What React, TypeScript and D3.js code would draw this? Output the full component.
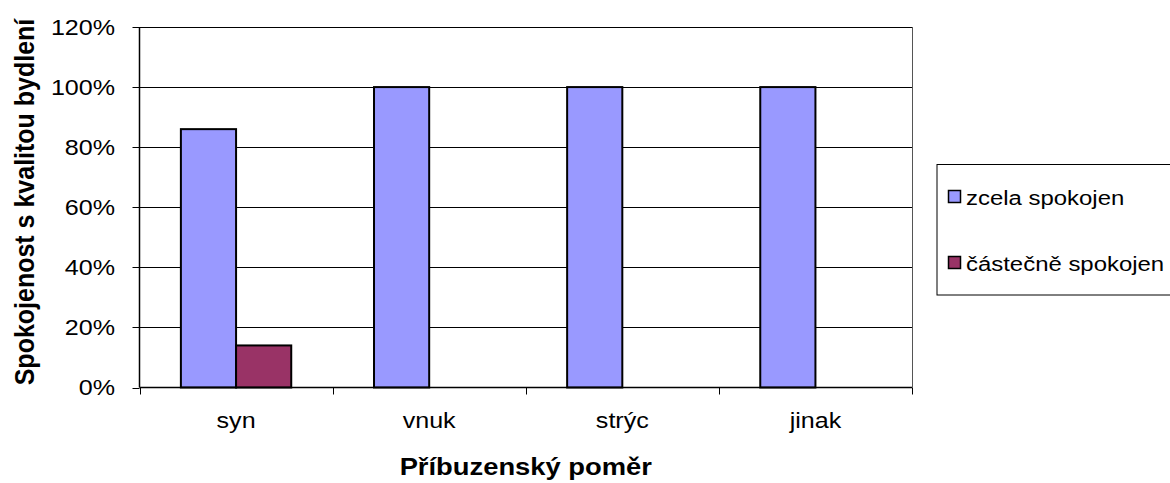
import React, { useEffect, useRef } from "react";
import * as d3 from "d3";

const categories = ["syn", "vnuk", "strýc", "jinak"];
const seriesNames = ["zcela spokojen", "částečně spokojen"];
const zcelaSpokojen = [86, 100, 100, 100];
const castecneSpokojen = [14, 0, 0, 0];
const yTicks = [0, 20, 40, 60, 80, 100, 120];
const colors = ["#9999FF", "#993366"];

// the picture is stretched a little horizontally, text too
const SX = 1.14;

const App = () => {
  const chartRef = useRef<SVGSVGElement>(null);

  useEffect(() => {
    const width = 1170;
    const height = 483;
    const plot = { left: 139.5, right: 912, top: 27, bottom: 387.5 };
    const font = "Arial, 'Liberation Sans', sans-serif";

    const svg = d3.select(chartRef.current);
    svg.selectAll("*").remove();
    svg.attr("width", width).attr("height", height);

    svg.append("rect").attr("width", width).attr("height", height).attr("fill", "#fff");

    const y = d3.scaleLinear().domain([0, 120]).range([plot.bottom, plot.top]);
    const x0 = d3.scaleBand<string>().domain(categories).range([plot.left, plot.right]);
    // gap width 150% -> bar width = band / 3.5
    const gap = (x0.bandwidth() * 0.75) / 3.5;
    const x1 = d3
      .scaleBand<string>()
      .domain(seriesNames)
      .range([gap, x0.bandwidth() - gap]);

    // gridlines
    svg
      .append("g")
      .selectAll("line")
      .data(yTicks.filter((t) => t > 0))
      .enter()
      .append("line")
      .attr("x1", plot.left)
      .attr("x2", plot.right)
      .attr("y1", (d) => Math.round(y(d)) + 0.5)
      .attr("y2", (d) => Math.round(y(d)) + 0.5)
      .attr("stroke", "#000")
      .attr("stroke-width", 1);

    // right border
    svg
      .append("line")
      .attr("x1", plot.right + 0.5)
      .attr("x2", plot.right + 0.5)
      .attr("y1", plot.top)
      .attr("y2", plot.bottom)
      .attr("stroke", "#555")
      .attr("stroke-width", 1);

    // bars
    const data = [zcelaSpokojen, castecneSpokojen];
    data.forEach((values, si) => {
      svg
        .append("g")
        .selectAll("rect")
        .data(values.map((v, i) => ({ v, cat: categories[i] })).filter((d) => d.v > 0))
        .enter()
        .append("rect")
        .attr("x", (d) => (x0(d.cat) as number) + (x1(seriesNames[si]) as number))
        .attr("y", (d) => y(d.v))
        .attr("width", x1.bandwidth())
        .attr("height", (d) => y(0) - y(d.v))
        .attr("fill", colors[si])
        .attr("stroke", "#000")
        .attr("stroke-width", 2);
    });

    // axes
    svg
      .append("line")
      .attr("x1", plot.left)
      .attr("x2", plot.left)
      .attr("y1", plot.top)
      .attr("y2", plot.bottom)
      .attr("stroke", "#000")
      .attr("stroke-width", 1.5);
    svg
      .append("line")
      .attr("x1", plot.left)
      .attr("x2", plot.right)
      .attr("y1", plot.bottom)
      .attr("y2", plot.bottom)
      .attr("stroke", "#000")
      .attr("stroke-width", 1.5);

    // y ticks + labels
    const yt = svg.append("g");
    yTicks.forEach((t) => {
      yt.append("line")
        .attr("x1", plot.left - 7)
        .attr("x2", plot.left)
        .attr("y1", Math.round(y(t)) + 0.5)
        .attr("y2", Math.round(y(t)) + 0.5)
        .attr("stroke", "#000");
      yt.append("text")
        .attr("transform", `translate(115,${y(t)}) scale(${SX},1)`)
        .attr("text-anchor", "end")
        .attr("dy", "0.36em")
        .style("font-family", font)
        .style("font-size", "22px")
        .attr("fill", "#000")
        .text(`${t}%`);
    });

    // x ticks + labels
    const xt = svg.append("g");
    [...categories.map((c) => x0(c) as number), plot.right].forEach((px) => {
      xt.append("line")
        .attr("x1", Math.round(px) + 0.5)
        .attr("x2", Math.round(px) + 0.5)
        .attr("y1", plot.bottom)
        .attr("y2", plot.bottom + 7)
        .attr("stroke", "#000");
    });
    categories.forEach((c) => {
      xt.append("text")
        .attr("transform", `translate(${(x0(c) as number) + x0.bandwidth() / 2},428) scale(${SX},1)`)
        .attr("text-anchor", "middle")
        .style("font-family", font)
        .style("font-size", "22px")
        .attr("fill", "#000")
        .text(c);
    });

    // axis titles
    svg
      .append("text")
      .attr("transform", `translate(${(plot.left + plot.right) / 2},475) scale(${SX},1)`)
      .attr("text-anchor", "middle")
      .style("font-family", font)
      .style("font-size", "24px")
      .style("font-weight", "bold")
      .text("Příbuzenský poměr");

    svg
      .append("text")
      .attr("transform", `translate(34,202) scale(${SX},1) rotate(-90)`)
      .attr("text-anchor", "middle")
      .style("font-family", font)
      .style("font-size", "25px")
      .style("font-weight", "bold")
      .text("Spokojenost s kvalitou bydlení");

    // legend
    const lg = svg.append("g");
    lg.append("rect")
      .attr("x", 937)
      .attr("y", 164.5)
      .attr("width", 260)
      .attr("height", 130.5)
      .attr("fill", "#fff")
      .attr("stroke", "#000")
      .attr("stroke-width", 1);
    seriesNames.forEach((name, i) => {
      const cy = 197 + i * 66;
      lg.append("rect")
        .attr("x", 948.5)
        .attr("y", cy - 6.5)
        .attr("width", 12)
        .attr("height", 12)
        .attr("fill", colors[i])
        .attr("stroke", "#000")
        .attr("stroke-width", 1.5);
      lg.append("text")
        .attr("transform", `translate(966,${cy}) scale(${SX},1)`)
        .attr("dy", "0.36em")
        .style("font-family", font)
        .style("font-size", "21px")
        .attr("fill", "#000")
        .text(name);
    });
  }, []);

  return (
    <svg
      ref={chartRef}
      style={{ position: "absolute", left: 0, top: 0, display: "block" }}
    ></svg>
  );
};

export default App;
